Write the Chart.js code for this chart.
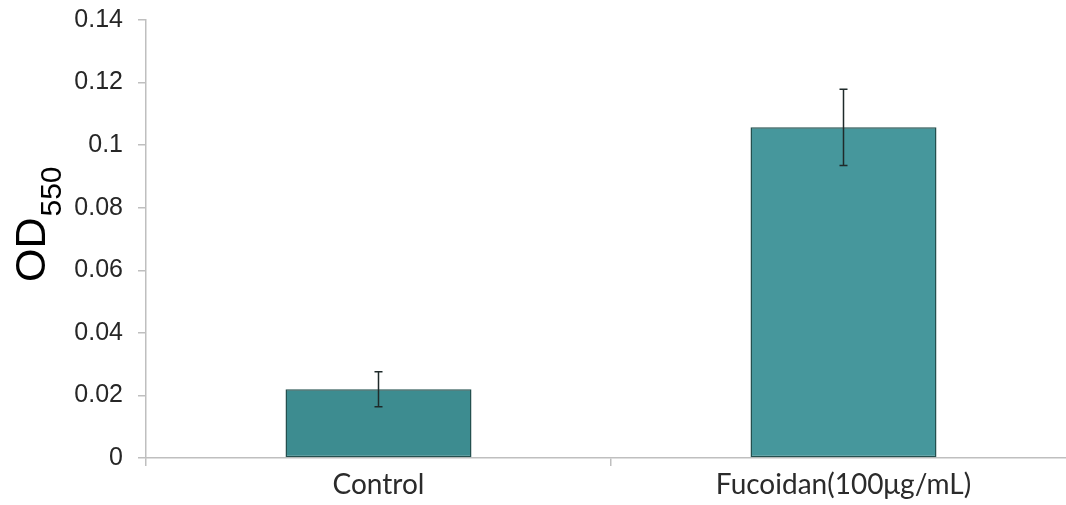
<!DOCTYPE html>
<html>
<head>
<meta charset="utf-8">
<script src="https://cdn.jsdelivr.net/npm/chart.js@4"></script>
<style>
html,body{margin:0;padding:0;background:#fff;overflow:hidden;}
#wrap{width:1096px;height:505px;position:relative;}
</style>
</head>
<body>
<div id="wrap"><canvas id="c"></canvas></div>
<script>
const categories = ['Control', 'Fucoidan(100\u03bcg/mL)'];
const values = [0.022, 0.1057];
const errors = [0.0056, 0.0122];
const yTicks = [0, 0.02, 0.04, 0.06, 0.08, 0.1, 0.12, 0.14];
const yTickLabels = ['0', '0.02', '0.04', '0.06', '0.08', '0.1', '0.12', '0.14'];
const barColors = ['#3d8c90', '#46979c'];
const yTitleMain = 'OD';
const yTitleSub = '550';

const errorBars = {
  id: 'errorBars',
  afterDatasetsDraw(chart) {
    const ctx = chart.ctx;
    const meta = chart.getDatasetMeta(0);
    const ys = chart.scales.y;
    ctx.save();
    ctx.strokeStyle = '#1f2a2a';
    ctx.lineWidth = 1.5;
    meta.data.forEach((bar, i) => {
      const x = bar.x;
      const yt = ys.getPixelForValue(values[i] + errors[i]);
      const yb = ys.getPixelForValue(values[i] - errors[i]);
      ctx.beginPath();
      ctx.moveTo(x, yt); ctx.lineTo(x, yb);
      ctx.moveTo(x - 4, yt); ctx.lineTo(x + 4, yt);
      ctx.moveTo(x - 4, yb); ctx.lineTo(x + 4, yb);
      ctx.stroke();
    });
    ctx.restore();
  }
};

const yTitle = {
  id: 'yTitle',
  afterDraw(chart) {
    const ctx = chart.ctx;
    ctx.save();
    ctx.translate(45, 282);
    ctx.rotate(-Math.PI / 2);
    ctx.fillStyle = '#000';
    ctx.textBaseline = 'alphabetic';
    ctx.textAlign = 'left';
    ctx.font = '43px "Liberation Sans"';
    ctx.fillText(yTitleMain, 0, 0);
    const w = ctx.measureText(yTitleMain).width;
    ctx.font = '30px "Liberation Sans"';
    ctx.fillText(yTitleSub, w + 1, 16);
    ctx.restore();
  }
};

new Chart(document.getElementById('c'), {
  type: 'bar',
  data: {
    labels: categories,
    datasets: [{
      data: values,
      backgroundColor: barColors,
      borderColor: '#24504f',
      borderWidth: 1.5,
      borderSkipped: false,
      categoryPercentage: 1.0,
      barPercentage: 0.4
    }]
  },
  options: {
    responsive: true,
    maintainAspectRatio: false,
    animation: false,
    layout: { padding: { left: 0, right: 20, top: 20, bottom: 0 } },
    plugins: { legend: { display: false }, tooltip: { enabled: false } },
    scales: {
      x: {
        offset: true,
        grid: { offset: true, drawOnChartArea: false, tickLength: 8, color: '#bfbfbf', lineWidth: 1.5 },
        border: { color: '#bfbfbf', width: 1.5 },
        ticks: { font: { family: 'Lato', size: 28 }, color: '#2b2b2b', padding: 2, maxRotation: 0 },
        afterFit(s) { s.height = 47; s.paddingLeft = 0; s.paddingRight = 0; }
      },
      y: {
        min: 0,
        max: 0.14,
        afterBuildTicks(s) { s.ticks = yTicks.map(v => ({ value: v })); },
        grid: { drawOnChartArea: false, tickLength: 8, color: '#bfbfbf', lineWidth: 1.5 },
        border: { color: '#bfbfbf', width: 1.5 },
        ticks: {
          font: { family: 'Liberation Sans', size: 25 },
          color: '#262626',
          padding: 15,
          callback(v, i) { return yTickLabels[i]; }
        },
        afterFit(s) { s.width = 146; s.paddingTop = 0; s.paddingBottom = 0; }
      }
    }
  },
  plugins: [errorBars, yTitle]
});
</script>
</body>
</html>
